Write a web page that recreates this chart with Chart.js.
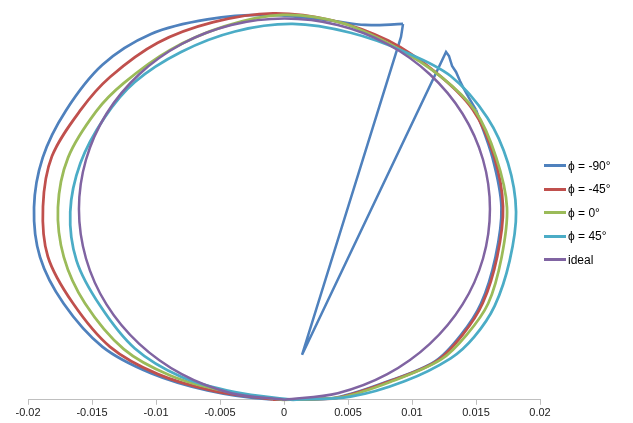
<!DOCTYPE html>
<html><head><meta charset="utf-8">
<script src="https://cdn.jsdelivr.net/npm/chart.js@4.4.1/dist/chart.umd.min.js"></script>
<style>
html,body{margin:0;padding:0;background:#fff;}
#wrap{position:relative;width:633px;height:423px;}
#legend{position:absolute;left:544px;top:154px;font:12px "Liberation Sans",Arial,sans-serif;color:#000;}
.item{display:flex;align-items:center;height:23.5px;white-space:nowrap;}
.sw{width:22px;height:3px;margin-right:2px;}
</style></head><body>
<div id="wrap"><canvas id="c" width="633" height="423"></canvas><div id="legend"></div></div>
<script>
const seriesNames = ["ϕ = -90°", "ϕ = -45°", "ϕ = 0°", "ϕ = 45°", "ideal"];
const seriesColors = ["#4F81BD", "#C0504D", "#9BBB59", "#4BACC6", "#8064A2"];
const xTicks = [-0.02, -0.015, -0.01, -0.005, 0, 0.005, 0.01, 0.015, 0.02];

// phi = -90° (main loop)
const m90X = [0.015,0.01629,0.01699,0.01652,0.01539,0.01383,0.0118,0.00813,0.00375,-0.00125,-0.00598,-0.01039,-0.01418,-0.01722,-0.01906,-0.01953,-0.01885,-0.01707,-0.01418,-0.01039,-0.00598,-0.00125,0.00359,0.00633,0.0093];
const m90Y = [0.029,0.02423,0.01925,0.01427,0.00963,0.0065,0.00385,0.00185,0.00015,0.00007,0.00095,0.00267,0.0053,0.00963,0.01427,0.01925,0.02423,0.02888,0.03352,0.0366,0.03806,0.0385,0.03795,0.0375,0.0376];
// phi = -90° (glitch segment)
const g90X = [0.0093,0.00914,0.00141,0.01266,0.01289,0.01313,0.01344,0.01375,0.01406,0.01445,0.015];
const g90Y = [0.0376,0.0363,0.0045,0.0348,0.0344,0.0334,0.0328,0.0319,0.0311,0.0302,0.029];

const m45X = [-0.00086,-0.00552,-0.00986,-0.01359,-0.0165,-0.01845,-0.01883,-0.01813,-0.01587,-0.01359,-0.00986,-0.00552,-0.00086,0.0038,0.00814,0.01188,0.01475,0.01641,0.01711,0.01666,0.01553,0.01395,0.01188,0.00814,0.0038,-0.00086];
const m45Y = [0.00003,0.0009,0.00257,0.0053,0.00968,0.01434,0.01935,0.02436,0.02903,0.0323,0.03573,0.03779,0.03867,0.03795,0.03594,0.03273,0.02903,0.02436,0.01935,0.01434,0.00968,0.0065,0.00383,0.0018,0.00012,0.00003];

const p0X = [-0.00012,-0.00466,-0.00889,-0.01252,-0.01554,-0.0172,-0.01766,-0.01687,-0.01466,-0.01252,-0.00889,-0.00466,-0.00012,0.00442,0.00865,0.01228,0.01495,0.01658,0.01742,0.017,0.01595,0.01427,0.01228,0.00865,0.00442,-0.00012];
const p0Y = [0,0.00088,0.00244,0.00507,0.00963,0.01427,0.01925,0.02423,0.02888,0.03168,0.03501,0.03736,0.0385,0.03773,0.03532,0.03231,0.02888,0.02423,0.01925,0.01427,0.00963,0.0065,0.00404,0.00196,0.00024,0];

const p45X = [0.00068,-0.00383,-0.00804,-0.01165,-0.01436,-0.01621,-0.0167,-0.01591,-0.01404,-0.01165,-0.00804,-0.00383,0.00068,0.0052,0.00941,0.01302,0.0159,0.0175,0.01813,0.01763,0.01646,0.01486,0.01302,0.00941,0.0052,0.00068];
const p45Y = [0,0.00077,0.00231,0.00513,0.0094,0.01393,0.0188,0.02367,0.0282,0.0318,0.0348,0.03685,0.0376,0.03672,0.03483,0.0324,0.0282,0.02367,0.0188,0.01393,0.0094,0.0063,0.00415,0.00185,0.00031,0];

const idealX = [0.00004,-0.00412,-0.00799,-0.01131,-0.01387,-0.01547,-0.01602,-0.01547,-0.01387,-0.01131,-0.00799,-0.00412,0.00004,0.0042,0.00807,0.01139,0.01395,0.01555,0.01609,0.01555,0.01395,0.01139,0.00807,0.0042,0.00004];
const idealY = [0,0.00066,0.00256,0.00559,0.00954,0.01414,0.01908,0.02402,0.02862,0.03257,0.0356,0.0375,0.03815,0.0375,0.0356,0.03257,0.02862,0.02402,0.01908,0.01414,0.00954,0.00559,0.00256,0.00066,0];

function pts(xs, ys){ return xs.map((x,i)=>({x:x, y:ys[i]})); }
function ds(label, xs, ys, color, order, tension, w){
  return {label:label, data:pts(xs,ys), showLine:true, borderColor:color, backgroundColor:color,
    borderWidth:w, pointRadius:0, pointHoverRadius:0, fill:false, tension:tension, order:order, clip:6};
}

const T = 0.33;
const datasets = [
  ds(seriesNames[0], m90X, m90Y, seriesColors[0], 5, T, 2.75),
  ds(seriesNames[0], g90X, g90Y, seriesColors[0], 4, 0, 2.5),
  ds(seriesNames[1], m45X, m45Y, seriesColors[1], 3, T, 2.75),
  ds(seriesNames[2], p0X, p0Y, seriesColors[2], 2, T, 2.75),
  ds(seriesNames[3], p45X, p45Y, seriesColors[3], 1, T, 2.75),
  ds(seriesNames[4], idealX, idealY, seriesColors[4], 0, T, 2.5)
];

new Chart(document.getElementById('c'), {
  type:'scatter',
  data:{datasets:datasets},
  options:{
    responsive:false, animation:false,
    layout:{padding:{left:28, right:93, top:10, bottom:1}},
    plugins:{legend:{display:false}, tooltip:{enabled:false}},
    scales:{
      x:{type:'linear', min:xTicks[0], max:xTicks[xTicks.length-1],
        afterBuildTicks:(s)=>{ s.ticks = xTicks.map(v=>({value:v})); },
        ticks:{padding:2, color:'#1a1a1a', font:{family:'Liberation Sans', size:11},
          callback:(v)=>String(Number(Number(v).toFixed(3)))},
        grid:{drawOnChartArea:false, drawTicks:true, tickLength:5, color:'#BFBFBF'},
        border:{color:'#BFBFBF', width:1}
      },
      y:{display:false, min:0, max:0.039}
    }
  }
});

const leg = document.getElementById('legend');
seriesNames.forEach((n,i)=>{
  const row = document.createElement('div'); row.className='item';
  const sw = document.createElement('span'); sw.className='sw'; sw.style.background=seriesColors[i];
  const t = document.createElement('span'); t.textContent = n;
  row.appendChild(sw); row.appendChild(t); leg.appendChild(row);
});
</script>
</body></html>
